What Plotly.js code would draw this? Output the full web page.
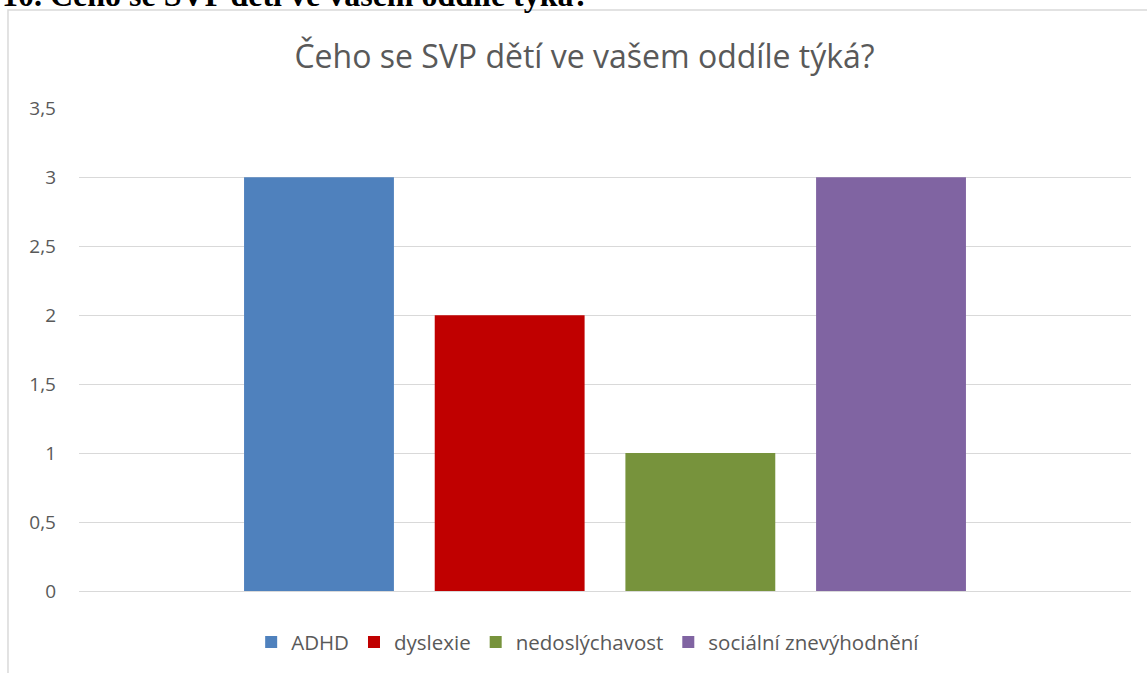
<!DOCTYPE html>
<html>
<head>
<meta charset="utf-8">
<script src="https://cdn.plot.ly/plotly-3.0.1.min.js"></script>
<style>
  html, body { margin: 0; padding: 0; background: #ffffff; }
  #chart { width: 1147px; height: 673px; }
</style>
</head>
<body>
<div id="chart"></div>
<script>
const category = ["Čeho se SVP dětí ve vašem oddíle týká?"];
const seriesNames = ["ADHD", "dyslexie", "nedoslýchavost", "sociální znevýhodnění"];
const seriesValues = [3, 2, 1, 3];
const seriesColors = ["#4F81BD", "#C00000", "#77933C", "#8064A2"];
const tickValues = [0, 0.5, 1, 1.5, 2, 2.5, 3, 3.5];
const tickLabels = ["0", "0,5", "1", "1,5", "2", "2,5", "3", "3,5"];
const chartTitle = "Čeho se SVP dětí ve vašem oddíle týká?";
const docHeading = "10. Čeho se SVP dětí ve vašem oddíle týká?";

const fontFam = "'Open Sans', Lato, 'DejaVu Sans', sans-serif";

const traces = seriesNames.map((name, i) => ({
  type: "bar",
  name: name,
  x: category,
  y: [seriesValues[i]],
  marker: { color: seriesColors[i], line: { width: 0 } },
  hoverinfo: "name+y"
}));

const layout = {
  width: 1147,
  height: 673,
  margin: { l: 79, r: 16, t: 108, b: 82, autoexpand: false },
  paper_bgcolor: "#ffffff",
  plot_bgcolor: "#ffffff",
  barmode: "group",
  bargap: 0.275,
  bargroupgap: 0.214,
  title: {
    text: chartTitle,
    font: { family: fontFam, size: 32, color: "#595959" },
    x: 0.5096,
    xanchor: "center",
    y: 0.916,
    yanchor: "middle"
  },
  xaxis: {
    showticklabels: false,
    showgrid: false,
    zeroline: false,
    showline: false,
    ticks: ""
  },
  yaxis: {
    range: [0, 3.503],
    tickvals: tickValues,
    ticktext: tickLabels,
    showgrid: true,
    gridcolor: "#D9D9D9",
    gridwidth: 1,
    zeroline: true,
    zerolinecolor: "#D9D9D9",
    zerolinewidth: 1,
    showline: false,
    ticks: "",
    ticklabelstandoff: 22,
    tickfont: { family: fontFam, size: 19, color: "#595959" }
  },
  legend: {
    orientation: "h",
    x: 0.484,
    xanchor: "center",
    y: -0.106,
    yanchor: "middle",
    font: { family: fontFam, size: 20.5, color: "#595959" },
    itemsizing: "constant",
    traceorder: "normal",
    itemwidth: 30
  },
  shapes: [{
    type: "rect",
    xref: "paper",
    yref: "paper",
    x0: -0.0675,
    x1: 1.2,
    y0: -0.5,
    y1: 1.2029,
    line: { color: "#D9D9D9", width: 1.5 },
    fillcolor: "rgba(0,0,0,0)",
    layer: "below"
  }],
  annotations: [{
    text: "<b>" + docHeading + "</b>",
    xref: "paper",
    yref: "paper",
    x: -0.0751,
    xanchor: "left",
    y: 1.1925,
    yanchor: "bottom",
    showarrow: false,
    font: { family: "'Liberation Serif', 'Times New Roman', serif", size: 32, color: "#000000" }
  }]
};

Plotly.newPlot("chart", traces, layout, { displayModeBar: false, responsive: false });
</script>
</body>
</html>
